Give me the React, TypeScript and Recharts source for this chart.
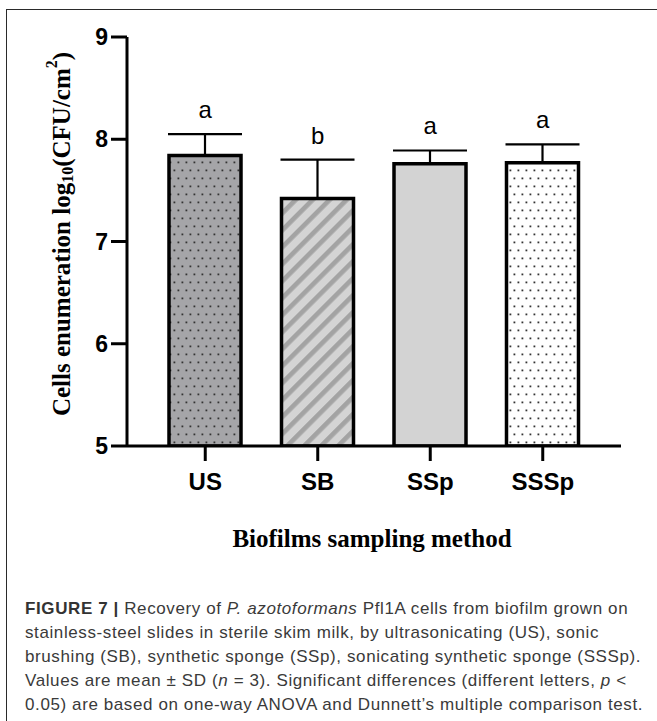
import React from 'react';
import { ComposedChart, Bar, Line, XAxis, YAxis, ErrorBar, Cell, LabelList } from 'recharts';

const categories = ['US', 'SB', 'SSp', 'SSSp'];
const means = [7.84, 7.42, 7.76, 7.77];
const sds = [0.21, 0.38, 0.13, 0.18];
const letters = ['a', 'b', 'a', 'a'];
const yTicks = [5, 6, 7, 8, 9];
const fills = ['url(#dotsDark)', 'url(#stripes)', '#d3d3d3', 'url(#dotsWhite)'];

const data = categories.map((c, i) => ({
  name: c,
  mean: means[i],
  err: [0, sds[i]],
  top: means[i] + sds[i],
  letter: letters[i],
}));

const W = 657;
const H = 721;

export default function App() {
  return (
    <div style={{ position: 'absolute', left: 0, top: 0, width: W, height: H, background: '#fff', overflow: 'hidden' }}>
      <div style={{ position: 'absolute', left: 6, top: 9, width: 800, height: 900, borderTop: '1.5px solid #2a2a2a', borderLeft: '1.5px solid #2a2a2a' }} />
      <svg width={0} height={0} style={{ position: 'absolute' }}>
        <defs>
          <pattern id="dotsDark" width={8} height={16} patternUnits="userSpaceOnUse">
            <rect width={8} height={16} fill="#a5a5a8" />
            <rect x={1.5} y={1.5} width={1.8} height={1.8} fill="#333" />
            <rect x={5.5} y={9.5} width={1.8} height={1.8} fill="#333" />
          </pattern>
          <pattern id="dotsWhite" width={8} height={16} patternUnits="userSpaceOnUse">
            <rect width={8} height={16} fill="#fff" />
            <rect x={1.5} y={1.5} width={1.8} height={1.8} fill="#333" />
            <rect x={5.5} y={9.5} width={1.8} height={1.8} fill="#333" />
          </pattern>
          <pattern id="stripes" width={12} height={12} patternUnits="userSpaceOnUse" patternTransform="rotate(45)">
            <rect width={12} height={12} fill="#d4d4d4" />
            <rect x={0} y={0} width={4.7} height={12} fill="#a3a3a3" />
          </pattern>
        </defs>
      </svg>
      <div style={{ position: 'absolute', left: 0, top: 0 }}>
        <ComposedChart
          width={W}
          height={520}
          data={data}
          margin={{ top: 37, right: 36, left: 67, bottom: 24 }}
        >
          <XAxis
            dataKey="name"
            height={50}
            padding={{ left: 22, right: 22 }}
            axisLine={{ stroke: '#000', strokeWidth: 3 }}
            tickLine={{ stroke: '#000', strokeWidth: 3 }}
            tickSize={15}
            tickMargin={12}
            tick={{ fill: '#000', fontSize: 24, fontWeight: 'bold', fontFamily: 'Liberation Sans, Arial, sans-serif' }}
          />
          <YAxis
            width={60}
            domain={[5, 9]}
            ticks={yTicks}
            interval={0}
            allowDataOverflow
            axisLine={{ stroke: '#000', strokeWidth: 3 }}
            tickLine={{ stroke: '#000', strokeWidth: 3 }}
            tickSize={16}
            tickMargin={3}
            tick={{ fill: '#000', fontSize: 23, fontWeight: 'bold', fontFamily: 'Liberation Sans, Arial, sans-serif' }}
          />
          <Bar dataKey="mean" barSize={72} stroke="#000" strokeWidth={3.5} isAnimationActive={false}>
            {data.map((d, i) => (
              <Cell key={d.name} fill={fills[i]} />
            ))}
            <ErrorBar dataKey="err" direction="y" width={37} stroke="#000" strokeWidth={2.2} />
          </Bar>
          <Line dataKey="top" stroke="none" dot={false} activeDot={false} isAnimationActive={false}>
            <LabelList
              dataKey="letter"
              position="top"
              offset={16}
              fill="#000"
              fontSize={24}
              fontFamily="Liberation Sans, Arial, sans-serif"
            />
          </Line>
        </ComposedChart>
      </div>
      <svg width={W} height={600} style={{ position: 'absolute', left: 0, top: 0, pointerEvents: 'none' }}>
        <text
          x={61}
          y={234}
          transform="rotate(-90, 61, 234)"
          textAnchor="middle"
          dominantBaseline="central"
          fontFamily="Liberation Serif, Times New Roman, serif"
          fontWeight="bold"
          fontSize={25}
          fill="#000"
        >
          Cells enumeration log
          <tspan fontSize={16} dy={6}>10</tspan>
          <tspan dy={-6}>(CFU/cm</tspan>
          <tspan fontSize={16} dy={-10}>2</tspan>
          <tspan dy={10}>)</tspan>
        </text>
        <text
          x={372}
          y={538}
          textAnchor="middle"
          dominantBaseline="central"
          fontFamily="Liberation Serif, Times New Roman, serif"
          fontWeight="bold"
          fontSize={25}
          fill="#000"
        >
          Biofilms sampling method
        </text>
      </svg>
      <div
        style={{
          position: 'absolute',
          left: 25,
          top: 597,
          width: 640,
          fontFamily: 'Liberation Sans, Arial, sans-serif',
          fontSize: 17,
          letterSpacing: 0.6,
          lineHeight: '24px',
          color: '#3a3a3a',
          whiteSpace: 'nowrap',
        }}
      >
        <b style={{ color: '#333' }}>FIGURE 7 | </b>Recovery of <i>P. azotoformans</i> Pfl1A cells from biofilm grown on
        <br />
        stainless-steel slides in sterile skim milk, by ultrasonicating (US), sonic
        <br />
        brushing (SB), synthetic sponge (SSp), sonicating synthetic sponge (SSSp).
        <br />
        Values are mean ± SD (<i>n</i> = 3). Significant differences (different letters, <i>p</i> &lt;
        <br />
        0.05) are based on one-way ANOVA and Dunnett’s multiple comparison test.
      </div>
    </div>
  );
}
